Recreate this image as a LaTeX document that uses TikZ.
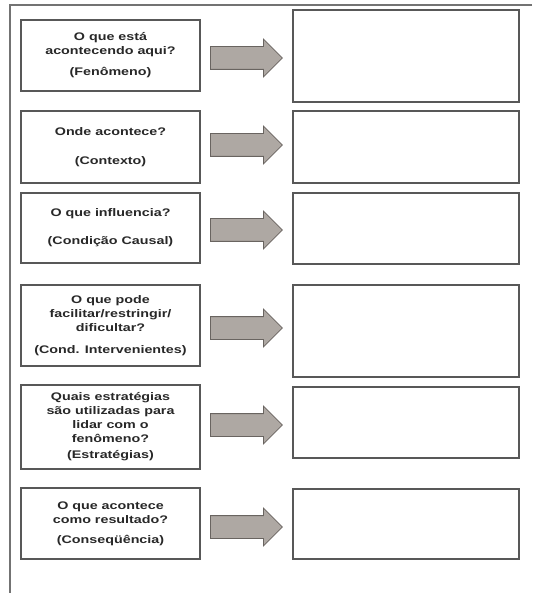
\documentclass[tikz,border=0pt]{standalone}
\usepackage{fontspec}
\setmainfont{Liberation Sans}
\newfontfamily\gtwide[FakeStretch=1.3]{Liberation Sans}
\usetikzlibrary{shapes.arrows}
\definecolor{gtInk}{RGB}{40,40,40}
\definecolor{gtEdge}{RGB}{88,88,88}
\definecolor{gtFrame}{RGB}{115,115,115}
\definecolor{gtArrow}{RGB}{174,168,163}
\definecolor{gtArrowEdge}{RGB}{105,100,96}
\tikzset{
  gqbox/.style={draw=gtEdge, line width=1.1pt, fill=white, align=center,
    inner sep=0pt, minimum width=179pt, text=gtInk,
    font=\gtwide\bfseries\fontsize{11}{14}\selectfont},
  gabox/.style={draw=gtEdge, line width=1.1pt, fill=white,
    minimum width=226pt, inner sep=0pt},
  gblock/.style={single arrow, draw=gtArrowEdge, fill=gtArrow,
    line width=.8pt, minimum height=72pt, inner xsep=0pt, inner ysep=11pt,
    single arrow head extend=7.5pt, single arrow tip angle=90,
    anchor=west}
}

\begin{document}
\begin{tikzpicture}[x=1pt, y=-1pt]
\path[use as bounding box] (0,0) rectangle (532,593);

% outer frame, cut at the right and bottom
\draw[gtFrame, line width=1.2pt] (532,5) -- (10,5) -- (10,593);

% questions
\node[gqbox, minimum height=71pt] (q1) at (110.5,55.5)
  {O que está\\acontecendo aqui?\\[7pt](Fenômeno)};
\node[gqbox, minimum height=72pt] (q2) at (110.5,147)
  {Onde acontece?\\[15pt](Contexto)};
\node[gqbox, minimum height=70pt] (q3) at (110.5,228)
  {O que influencia?\\[14pt](Condição Causal)};
\node[gqbox, minimum height=81pt] (q4) at (110.5,325.5)
  {O que pode\\facilitar/restringir/\\dificultar?\\[8pt](Cond. Intervenientes)};
\node[gqbox, minimum height=84pt] (q5) at (110.5,427)
  {Quais estratégias\\são utilizadas para\\lidar com o\\fenômeno?\\[2pt](Estratégias)};
\node[gqbox, minimum height=71pt] (q6) at (110.5,523.5)
  {O que acontece\\como resultado?\\[6pt](Conseqüência)};

% empty answer boxes
\node[gabox, minimum height=92pt] (r1) at (406,56) {};
\node[gabox, minimum height=72pt] (r2) at (406,147) {};
\node[gabox, minimum height=71pt] (r3) at (406,228.5) {};
\node[gabox, minimum height=92pt] (r4) at (406,331) {};
\node[gabox, minimum height=71pt] (r5) at (406,422.5) {};
\node[gabox, minimum height=70pt] (r6) at (406,524) {};

% block arrows
\node[gblock] (a1) at (210,58) {};
\node[gblock] (a2) at (210,145) {};
\node[gblock] (a3) at (210,230) {};
\node[gblock] (a4) at (210,328) {};
\node[gblock] (a5) at (210,425) {};
\node[gblock] (a6) at (210,527) {};
\end{tikzpicture}
\end{document}
